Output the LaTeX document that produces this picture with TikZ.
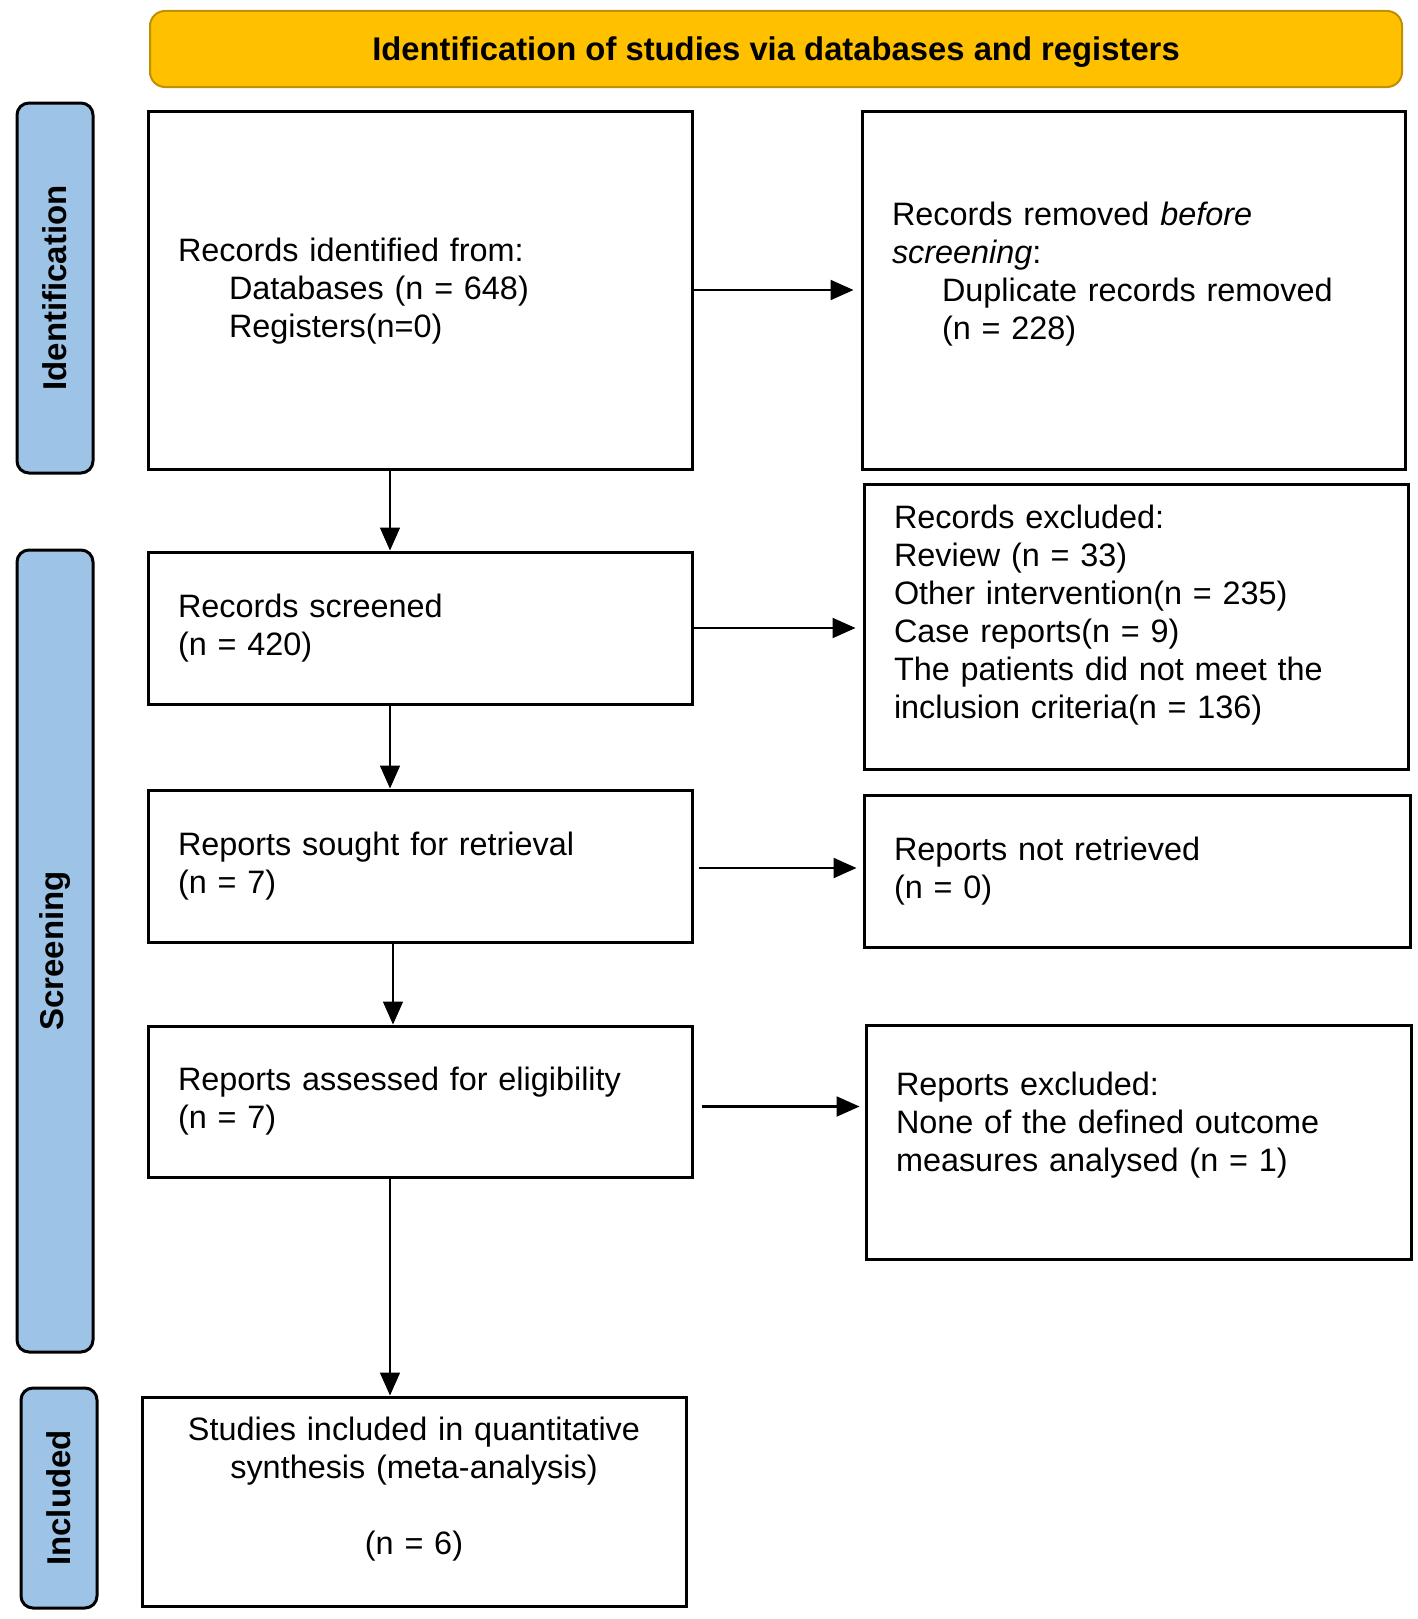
\documentclass[tikz,border=0pt]{standalone}
\usepackage{fontspec}
\setmainfont{Liberation Sans}
\usetikzlibrary{arrows.meta}
\definecolor{headfill}{HTML}{FFC000}
\definecolor{headborder}{HTML}{BF9000}
\definecolor{barblue}{HTML}{9DC3E6}
\begin{document}
\begin{tikzpicture}[x=1pt,y=-1pt,
  every node/.style={font=\fontsize{32.4}{38}\selectfont},
  box/.style={draw=black, line width=3pt, inner xsep=30pt, inner ysep=0pt, align=left},
  sidebar/.style={draw=black, line width=3pt, fill=barblue, rounded corners=12pt,
    inner sep=0pt, rotate=90, font=\bfseries\fontsize{33}{38}\selectfont},
  varr/.style={-{Triangle[length=23pt,width=20pt]}, line width=1.6pt},
  harr/.style={-{Triangle[length=23pt,width=20pt]}, line width=2.2pt},
]
\useasboundingbox (0,0) rectangle (1417,1619);

% header
\node[draw=headborder, line width=2pt, fill=headfill, rounded corners=15pt,
  minimum width=1252pt, minimum height=76pt, inner sep=0pt,
  font=\bfseries\fontsize{32.8}{38}\selectfont] (head) at (776,49)
  {\raisebox{-3pt}[\height][\depth]{Identification of studies via databases and registers}};

% side bars
\node[sidebar, minimum width=370pt, minimum height=76pt] (idbar) at (55,288) {Identification};
\node[sidebar, minimum width=802pt, minimum height=76pt] (scbar) at (55,951) {Screening};
\node[sidebar, minimum width=220pt, minimum height=76pt] (inbar) at (59,1498) {Included};

% left column
\node[box, text width=484pt, minimum height=358pt] (B1) at (420,290)
  {Records identified from:\\ \hspace*{51pt}Databases (n = 648)\\ \hspace*{51pt}Registers(n=0)\\[-34pt]\mbox{}};
\node[box, text width=484pt, minimum height=152pt] (B2) at (420,628)
  {Records screened\\(n = 420)};
\node[box, text width=484pt, minimum height=152pt] (B3) at (420,866)
  {Reports sought for retrieval\\(n = 7)};
\node[box, text width=484pt, minimum height=151pt] (B4) at (420,1101.5)
  {Reports assessed for eligibility\\(n = 7)};
\node[box, text width=484pt, minimum height=209pt, align=center] (B5) at (414,1501.5)
  {Studies included in quantitative\\synthesis (meta-analysis)\\ \mbox{}\\(n = 6)\\[-7pt]\mbox{}};

% right column
\node[box, text width=483pt, minimum height=358pt] (R1) at (1133.5,290)
  {Records removed \textit{before}\\\textit{screening}:\\ \hspace*{50pt}Duplicate records removed\\ \hspace*{50pt}(n = 228)\\[1pt]\mbox{}};
\node[box, text width=484pt, minimum height=285pt] (R2) at (1136,626.5)
  {Records excluded:\\Review (n = 33)\\Other intervention(n = 235)\\Case reports(n = 9)\\The patients did not meet the\\inclusion criteria(n = 136)\\[-9pt]\mbox{}};
\node[box, text width=486pt, minimum height=152pt] (R3) at (1137,871)
  {Reports not retrieved\\(n = 0)};
\node[box, text width=485pt, minimum height=234pt] (R4) at (1138.5,1142)
  {Reports excluded:\\None of the defined outcome\\measures analysed (n = 1)\\[3pt]\mbox{}};

% vertical arrows
\draw[varr] ([xshift=-30pt]B1.south) -- ([xshift=-30pt]B1.south |- B2.north);
\draw[varr] ([xshift=-30pt]B2.south) -- ([xshift=-30pt]B2.south |- B3.north);
\draw[varr] ([xshift=-27pt]B3.south) -- ([xshift=-27pt]B3.south |- B4.north);
\draw[varr] ([xshift=-30pt]B4.south) -- ([xshift=-30pt]B4.south |- B5.north);

% horizontal arrows
\draw[harr, shorten >=7pt] (B1.east) -- (B1.east -| R1.west);
\draw[harr, shorten >=7pt] (B2.east) -- (B2.east -| R2.west);
\draw[harr, shorten <=5pt, shorten >=6pt] ([yshift=-2pt]B3.east) -- ([yshift=-2pt]B3.east -| R3.west);
\draw[harr, shorten <=8pt, shorten >=5pt] ([yshift=-5pt]B4.east) -- ([yshift=-5pt]B4.east -| R4.west);
\end{tikzpicture}
\end{document}
